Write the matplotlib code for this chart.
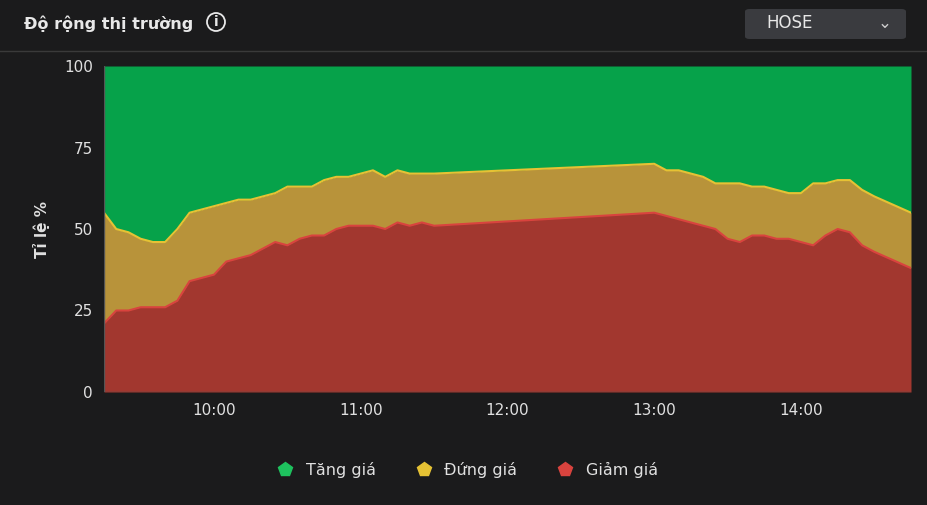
import matplotlib
matplotlib.use("Agg")
import matplotlib.pyplot as plt
from matplotlib.patches import FancyBboxPatch, Ellipse
from matplotlib.lines import Line2D
import numpy as np

times = ["9:15","9:20","9:25","9:30","9:35","9:40","9:45","9:50","9:55","10:00","10:05","10:10","10:15","10:20","10:25","10:30","10:35","10:40","10:45","10:50","10:55","11:00","11:05","11:10","11:15","11:20","11:25","11:30","13:00","13:05","13:10","13:15","13:20","13:25","13:30","13:35","13:40","13:45","13:50","13:55","14:00","14:05","14:10","14:15","14:20","14:25","14:30","14:45"]
giam = [21,25,25,26,26,26,28,34,35,36,40,41,42,44,46,45,47,48,48,50,51,51,51,50,52,51,52,51,55,54,53,52,51,50,47,46,48,48,47,47,46,45,48,50,49,45,43,38]
giam_dung = [55,50,49,47,46,46,50,55,56,57,58,59,59,60,61,63,63,63,65,66,66,67,68,66,68,67,67,67,70,68,68,67,66,64,64,64,63,63,62,61,61,64,64,65,65,62,60,55]
xticks = ["10:00","11:00","12:00","13:00","14:00"]

def tm(s):
    h, m = s.split(":"); return int(h) + int(m)/60

x = np.array([tm(t) for t in times])
r = np.array(giam, float); y = np.array(giam_dung, float)

bg = "#1b1b1c"
fig = plt.figure(figsize=(9.27, 5.05), dpi=100, facecolor=bg)
ax = fig.add_axes([104/927, 1-392/505, 807/927, 326/505])
ax.set_facecolor(bg)
green, yellow, red = "#06a24a", "#b8933a", "#a2372f"
ax.fill_between(x, 0, r, color=red, lw=0)
ax.fill_between(x, r, y, color=yellow, lw=0)
ax.fill_between(x, y, 100, color=green, lw=0)
ax.plot(x, r, color="#d9433e", lw=1.5)
ax.plot(x, y, color="#e6c234", lw=1.5)
ax.set_xlim(x[0], x[-1]); ax.set_ylim(0, 100)
ax.set_xticks([tm(t) for t in xticks]); ax.set_xticklabels(xticks)
ax.set_yticks([0, 25, 50, 75, 100])
ax.tick_params(colors="#e0e0e0", labelsize=11, length=0, pad=8)
for s in ax.spines.values(): s.set_visible(False)
ax.axvline(x[0], color="#555", lw=1)
ax.axhline(0, color="#555", lw=1)
ax.set_ylabel("Tỉ lệ %", color="#e0e0e0", fontsize=11, fontweight="bold", labelpad=10)

fig.text(24/927, 1-24/505, "Độ rộng thị trường", color="#e8e8e8", fontsize=11.5, fontweight="bold", va="center")
fig.add_artist(Ellipse((216/927, 1-22/505), 18/927, 18/505, fc="none", ec="#e8e8e8", lw=1.3, transform=fig.transFigure))
fig.text(216/927, 1-22/505, "i", color="#e8e8e8", fontsize=10, fontweight="bold", va="center", ha="center")
fig.add_artist(Line2D([0, 1], [1-51/505, 1-51/505], color="#3a3a3a", lw=1))
fig.add_artist(FancyBboxPatch((745/927, 1-39/505), 161/927, 30/505, boxstyle="round,pad=0,rounding_size=0.005",
                              fc="#3a3b3f", ec="none", transform=fig.transFigure))
fig.text(766/927, 1-23/505, "HOSE", color="#e8e8e8", fontsize=12, va="center")
fig.text(885/927, 1-23/505, "⌄", color="#cccccc", fontsize=12, va="center", ha="center")

handles = [Line2D([], [], marker="p", ls="", color=c, markersize=10) for c in ["#1ec25e", "#e6c234", "#d9433e"]]
fig.legend(handles, ["Tăng giá", "Đứng giá", "Giảm giá"], loc="center", bbox_to_anchor=(0.5, 1-470/505),
           ncol=3, frameon=False, labelcolor="#e0e0e0", fontsize=11.5, handletextpad=0.3, columnspacing=2)
fig.savefig("out.png", facecolor=bg)
